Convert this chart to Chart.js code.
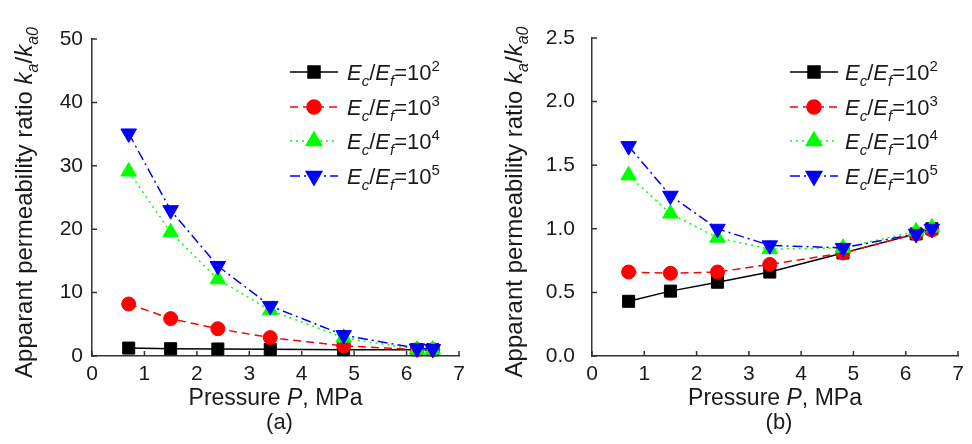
<!DOCTYPE html>
<html lang="en">
<head>
    <meta charset="UTF-8">
    <title>Apparent permeability ratio vs pressure</title>
    <script src="https://cdn.jsdelivr.net/npm/chart.js"></script>
    <style>
        body { margin: 0; background: #fff; }
        .wrap { position: relative; width: 972px; height: 444px; }
        canvas { position: absolute; top: 0; }
    </style>
</head>
<body>
    <div class="wrap">
        <canvas id="chartA" width="486" height="444" style="left:0"></canvas>
        <canvas id="chartB" width="486" height="444" style="left:486px"></canvas>
    </div>

    <script>
        // Data
        const pressure = [0.7, 1.5, 2.4, 3.4, 4.8, 6.2, 6.5];
        const ratioA_1e2 = [1.25, 1.15, 1.1, 1.05, 1.0, 1.0, 1.0];
        const ratioA_1e3 = [8.2, 5.9, 4.3, 2.9, 1.6, 1.0, 1.0];
        const ratioA_1e4 = [29.1, 19.5, 12.1, 7.2, 2.9, 1.0, 1.0];
        const ratioA_1e5 = [35.1, 23.0, 14.2, 7.9, 3.3, 1.2, 1.1];
        const ratioB_1e2 = [0.43, 0.51, 0.58, 0.66, 0.81, 0.96, 1.0];
        const ratioB_1e3 = [0.66, 0.65, 0.66, 0.72, 0.81, 0.96, 0.99];
        const ratioB_1e4 = [1.42, 1.12, 0.93, 0.84, 0.85, 0.98, 1.01];
        const ratioB_1e5 = [1.65, 1.26, 1.0, 0.87, 0.85, 0.96, 1.0];
        const exponents = ['2', '3', '4', '5'];
        const xTicks = [0, 1, 2, 3, 4, 5, 6, 7];
        const yTicksA = [0, 10, 20, 30, 40, 50];
        const yTicksB = [0, 0.5, 1.0, 1.5, 2.0, 2.5];

        const FONT = '"Liberation Sans", Arial, sans-serif';
        const INK = '#1a1a1a';

        const styles = [
            { color: '#000000', dash: [], pointStyle: 'rect', radius: 8.5, rotation: 0 },
            { color: '#ff0000', dash: [8, 5], pointStyle: 'circle', radius: 7, rotation: 0 },
            { color: '#00ff00', dash: [2, 4], pointStyle: 'triangle', radius: 9, rotation: 0 },
            { color: '#0000ff', dash: [10, 4, 2, 4], pointStyle: 'triangle', radius: 9, rotation: 180 }
        ];

        // draw text made of runs (italic / subscript / superscript)
        function runFont(p, size) {
            const s = (p.sub || p.sup) ? Math.round(size * 0.66) : size;
            return (p.it ? 'italic ' : '') + s + 'px ' + FONT;
        }
        function richWidth(ctx, parts, size) {
            let w = 0;
            parts.forEach(p => { ctx.font = runFont(p, size); w += ctx.measureText(p.t).width; });
            return w;
        }
        function drawRich(ctx, parts, x, y, size) {
            ctx.textBaseline = 'alphabetic';
            ctx.textAlign = 'left';
            const base = y + size * 0.36;
            parts.forEach(p => {
                ctx.font = runFont(p, size);
                let dy = 0;
                if (p.sub) dy = size * 0.28;
                if (p.sup) dy = -size * 0.4;
                ctx.fillText(p.t, x, base + dy);
                x += ctx.measureText(p.t).width;
            });
        }

        function legendParts(exp) {
            return [
                { t: 'E', it: true }, { t: 'c', it: true, sub: true }, { t: '/' },
                { t: 'E', it: true }, { t: 'f', it: true, sub: true }, { t: '=10' },
                { t: exp, sup: true }
            ];
        }

        const yTitle = [
            { t: 'Apparant permeability ratio ' }, { t: 'k', it: true }, { t: 'a', it: true, sub: true },
            { t: '/' }, { t: 'k', it: true }, { t: 'a0', it: true, sub: true }
        ];
        const xTitle = [{ t: 'Pressure ' }, { t: 'P', it: true }, { t: ', MPa' }];

        const decor = {
            id: 'decor',
            afterDraw(chart, args, o) {
                const ctx = chart.ctx;
                const area = chart.chartArea;
                const xs = chart.scales.x, ys = chart.scales.y;
                ctx.save();
                // inward tick marks
                ctx.strokeStyle = '#333';
                ctx.lineWidth = 1.5;
                ctx.beginPath();
                xs.ticks.forEach(t => {
                    const px = xs.getPixelForValue(t.value);
                    ctx.moveTo(px, area.bottom);
                    ctx.lineTo(px, area.bottom - 5);
                });
                ys.ticks.forEach(t => {
                    const py = ys.getPixelForValue(t.value);
                    ctx.moveTo(area.left, py);
                    ctx.lineTo(area.left + 5, py);
                });
                ctx.stroke();

                ctx.fillStyle = INK;
                // y title
                const tSize = 24;
                const yc = (area.top + area.bottom) / 2 + 5;
                ctx.save();
                ctx.translate(o.yTitleX, yc);
                ctx.rotate(-Math.PI / 2);
                drawRich(ctx, yTitle, -richWidth(ctx, yTitle, tSize) / 2, 0, tSize);
                ctx.restore();
                // x title and panel label
                const xc = (area.left + area.right) / 2;
                drawRich(ctx, xTitle, xc - richWidth(ctx, xTitle, 23) / 2, 397, 23);
                ctx.font = '22px ' + FONT;
                ctx.textAlign = 'center';
                ctx.textBaseline = 'middle';
                ctx.fillText(o.panel, xc + 4, 423);

                // legend
                styles.forEach((s, i) => {
                    const y = o.legendRows[i];
                    ctx.strokeStyle = s.color;
                    ctx.lineWidth = 1.5;
                    ctx.setLineDash(s.dash);
                    ctx.beginPath();
                    ctx.moveTo(o.legendX1, y);
                    ctx.lineTo(o.legendX2, y);
                    ctx.stroke();
                    ctx.setLineDash([]);
                    ctx.fillStyle = s.color;
                    Chart.helpers.drawPoint(ctx, {
                        pointStyle: s.pointStyle, radius: s.radius, rotation: s.rotation, borderWidth: 1
                    }, (o.legendX1 + o.legendX2) / 2, y);
                    ctx.fillStyle = INK;
                    drawRich(ctx, legendParts(exponents[i]), o.legendText, y, 22);
                });
                ctx.restore();
            }
        };

        function makeChart(id, series, yTicks, decimals, yWidth, pad, extra) {
            const datasets = series.map((vals, i) => ({
                data: pressure.map((p, j) => ({ x: p, y: vals[j] })),
                borderColor: styles[i].color,
                backgroundColor: styles[i].color,
                borderWidth: 1.5,
                borderDash: styles[i].dash,
                pointStyle: styles[i].pointStyle,
                pointRadius: styles[i].radius,
                pointRotation: styles[i].rotation,
                pointBorderWidth: 1,
                showLine: true,
                tension: 0,
                clip: false,
                order: 4 - i
            }));
            return new Chart(document.getElementById(id), {
                type: 'scatter',
                data: { datasets },
                plugins: [decor],
                options: {
                    responsive: false,
                    animation: false,
                    layout: { padding: pad },
                    plugins: { legend: { display: false }, tooltip: { enabled: false }, decor: extra },
                    scales: {
                        x: {
                            type: 'linear',
                            min: xTicks[0], max: xTicks[xTicks.length - 1],
                            afterBuildTicks: s => { s.ticks = xTicks.map(v => ({ value: v })); },
                            afterFit: s => { s.height = 88; },
                            grid: { drawOnChartArea: false, drawTicks: false },
                            border: { color: '#333', width: 1.5 },
                            ticks: { padding: 6, color: INK, font: { family: FONT, size: 21 }, maxRotation: 0 }
                        },
                        y: {
                            type: 'linear',
                            min: yTicks[0], max: yTicks[yTicks.length - 1],
                            afterBuildTicks: s => { s.ticks = yTicks.map(v => ({ value: v })); },
                            afterFit: s => { s.width = yWidth; },
                            grid: { drawOnChartArea: false, drawTicks: false },
                            border: { color: '#333', width: 1.5 },
                            ticks: {
                                padding: extra.tickPad, color: INK, font: { family: FONT, size: 21 },
                                callback: v => Number(v).toFixed(decimals)
                            }
                        }
                    }
                }
            });
        }

        const legendRows = [72, 107, 141, 176];

        makeChart('chartA', [ratioA_1e2, ratioA_1e3, ratioA_1e4, ratioA_1e5], yTicksA, 0, 92,
            { top: 39, right: 27, bottom: 0, left: 0 },
            { panel: '(a)', yTitleX: 23, tickPad: 9, legendRows, legendX1: 290, legendX2: 338, legendText: 347 });

        makeChart('chartB', [ratioB_1e2, ratioB_1e3, ratioB_1e4, ratioB_1e5], yTicksB, 1, 106,
            { top: 38, right: 14, bottom: 0, left: 0 },
            { panel: '(b)', yTitleX: 27, tickPad: 17, legendRows, legendX1: 304, legendX2: 352, legendText: 359 });
    </script>
</body>
</html>
